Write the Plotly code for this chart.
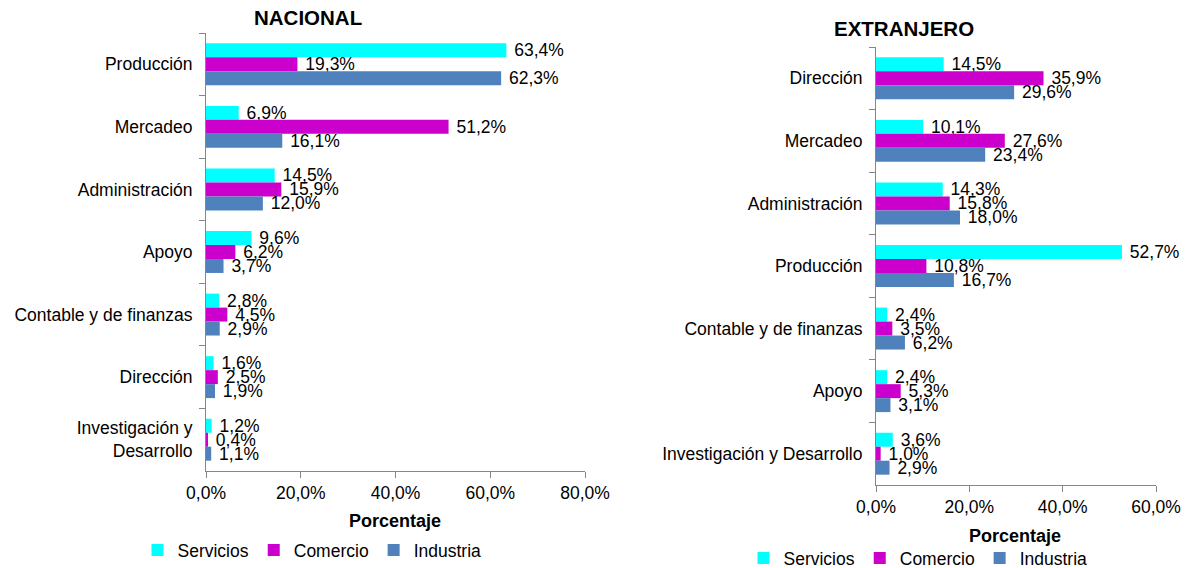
import plotly.graph_objects as go

# ---- data ----
series = ["Servicios", "Comercio", "Industria"]
colors = ["#00FFFF", "#CC00CC", "#4F81BD"]

nac_categories = ["Producción", "Mercadeo", "Administración", "Apoyo",
                  "Contable y de finanzas", "Dirección", "Investigación y<br>Desarrollo"]
nac_servicios = [63.4, 6.9, 14.5, 9.6, 2.8, 1.6, 1.2]
nac_comercio = [19.3, 51.2, 15.9, 6.2, 4.5, 2.5, 0.4]
nac_industria = [62.3, 16.1, 12.0, 3.7, 2.9, 1.9, 1.1]

ext_categories = ["Dirección", "Mercadeo", "Administración", "Producción",
                  "Contable y de finanzas", "Apoyo", "Investigación y Desarrollo"]
ext_servicios = [14.5, 10.1, 14.3, 52.7, 2.4, 2.4, 3.6]
ext_comercio = [35.9, 27.6, 15.8, 10.8, 3.5, 5.3, 1.0]
ext_industria = [29.6, 23.4, 18.0, 16.7, 6.2, 3.1, 2.9]

nac_ticks = [0, 20, 40, 60, 80]
nac_ticktext = ["0,0%", "20,0%", "40,0%", "60,0%", "80,0%"]
ext_ticks = [0, 20, 40, 60]
ext_ticktext = ["0,0%", "20,0%", "40,0%", "60,0%"]

FONT = "Liberation Sans, Arial, sans-serif"
FS = 17.5
W, H = 1188, 568

fig = go.Figure()

def add_panel(cats, vals_list, xa, ya, legend):
    for name, col, vals in zip(series, colors, vals_list):
        fig.add_trace(go.Bar(
            name=name, y=cats, x=vals, orientation="h",
            marker=dict(color=col, line=dict(width=0)),
            texttemplate=" %{x:.1f}%", textposition="outside",
            textfont=dict(family=FONT, size=FS, color="#000000"),
            constraintext="none", cliponaxis=False,
            xaxis=xa, yaxis=ya, legend=legend, showlegend=True,
            hoverinfo="skip",
        ))

add_panel(nac_categories, [nac_servicios, nac_comercio, nac_industria], "x", "y", "legend")
add_panel(ext_categories, [ext_servicios, ext_comercio, ext_industria], "x2", "y2", "legend2")

def px_x(x):
    return x / W

def px_y(y):
    return 1 - y / H

axis_line = "#868686"
common_x = dict(showgrid=False, zeroline=False, showline=True, linecolor=axis_line,
                ticks="outside", ticklen=6, tickcolor=axis_line, automargin=False,
                tickfont=dict(family=FONT, size=FS, color="#000000"),
                ticklabelstandoff=0, fixedrange=True)
common_y = dict(showgrid=False, zeroline=False, showline=True, linecolor=axis_line,
                ticks="outside", ticklen=6, tickcolor=axis_line, tickson="boundaries",
                autorange="reversed", automargin=False,
                tickfont=dict(family=FONT, size=FS, color="#000000"),
                ticklabelstandoff=9, fixedrange=True)

legend_common = dict(orientation="h", xanchor="center", yanchor="middle",
                     font=dict(family=FONT, size=FS), itemwidth=30,
                     tracegroupgap=0, bgcolor="rgba(0,0,0,0)")

def ann(text, x, y, size):
    return dict(text=text, x=px_x(x), y=px_y(y), xref="paper", yref="paper",
                xanchor="center", yanchor="middle", showarrow=False,
                font=dict(family=FONT, size=size, color="#000000"))

fig.update_layout(
    width=W, height=H,
    margin=dict(l=0, r=0, t=0, b=0, autoexpand=False),
    paper_bgcolor="white", plot_bgcolor="white",
    separators=",.",
    barmode="group", bargap=0.33, bargroupgap=0,
    font=dict(family=FONT, size=FS, color="#000000"),
    xaxis=dict(common_x, domain=[px_x(206), px_x(585)], range=[0, 80],
               tickvals=nac_ticks, ticktext=nac_ticktext, anchor="y"),
    yaxis=dict(common_y, domain=[px_y(471), px_y(33)], anchor="x"),
    xaxis2=dict(common_x, domain=[px_x(876), px_x(1156)], range=[0, 60],
                tickvals=ext_ticks, ticktext=ext_ticktext, anchor="y2"),
    yaxis2=dict(common_y, domain=[px_y(485), px_y(47)], anchor="x2"),
    legend=dict(legend_common, x=px_x(312), y=px_y(550)),
    legend2=dict(legend_common, x=px_x(918), y=px_y(558)),
    annotations=[
        ann("<b>NACIONAL</b>", 308, 18, 20.5),
        ann("<b>EXTRANJERO</b>", 904, 29, 20.5),
        ann("<b>Porcentaje</b>", 395, 521, 18),
        ann("<b>Porcentaje</b>", 1015, 536, 18),
    ],
)

fig.write_html(
    "out.html",
    config={"displayModeBar": False},
    post_script="document.body.style.margin='0px';document.body.style.overflow='hidden';",
)
